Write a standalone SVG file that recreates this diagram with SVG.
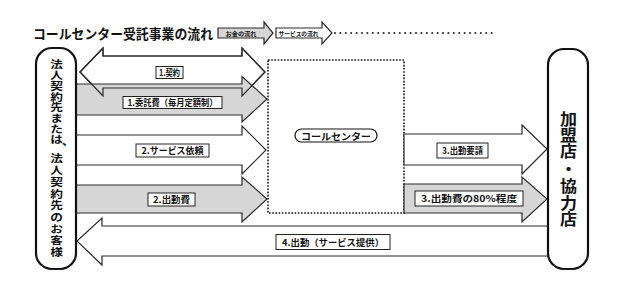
<svg xmlns="http://www.w3.org/2000/svg" width="627" height="296" viewBox="0 0 627 296">
<style>
  text { font-family: "Noto Sans CJK JP", "Noto Sans", sans-serif; font-weight: bold; fill: #111; }
  .lbl { font-size: 9px; text-anchor: middle; dominant-baseline: central; }
  .lblbox { fill: #fff; stroke: #222; stroke-width: 1; }
  .white { fill: #fff; stroke: #2a2a2a; stroke-width: 1.2; stroke-linejoin: miter; }
  .gray { fill: #d6d6d6; stroke: #2a2a2a; stroke-width: 1.2; }
  .outline { fill: none; stroke: #2a2a2a; stroke-width: 1.2; }
  .node { fill: #fff; stroke: #111; stroke-width: 2.2; }
  .vl { font-size: 10.4px; text-anchor: middle; dominant-baseline: central; }
  .vr { font-size: 15.5px; text-anchor: middle; dominant-baseline: central; }
</style>
<rect width="627" height="296" fill="#fff"/>

<g id="title">
  <text x="33" y="33.5" font-size="13.2" dominant-baseline="central" textLength="180" lengthAdjust="spacingAndGlyphs">コールセンター受託事業の流れ</text>
</g>

<g id="legend">
  <path class="gray" d="M218,28 H264 V22 L273,33 L264,44 V38 H218 Z" stroke-width="1"/>
  <text x="241" y="33" font-size="6.2" text-anchor="middle" dominant-baseline="central">お金の流れ</text>
  <path class="white" d="M276,28 H322 V22 L332,33 L322,44 V38 H276 Z" stroke-width="1"/>
  <text x="298.5" y="33" font-size="6" text-anchor="middle" dominant-baseline="central" textLength="40" lengthAdjust="spacingAndGlyphs">サービスの流れ</text>
  <line x1="335" y1="33" x2="492" y2="33" stroke="#222" stroke-width="2" stroke-linecap="round" stroke-dasharray="0 5.4"/>
</g>

<g id="callcenter">
  <rect x="268" y="60" width="136" height="153" fill="#fff" stroke="#111" stroke-width="1.6" stroke-dasharray="1.6 1.6"/>
  <rect x="295" y="129" width="82" height="13" rx="6.5" fill="#fff" stroke="#111" stroke-width="1.2"/>
  <text x="336" y="135.5" font-size="9.5" text-anchor="middle" dominant-baseline="central" textLength="70" lengthAdjust="spacingAndGlyphs">コールセンター</text>
</g>

<g id="connectors">
  <!-- 1. 契約 (double-headed) -->
  <path class="white" d="M80,72 L103,48 V56 H242 V48 L265,72 L242,96 V88 H103 V96 Z"/>
  <!-- 1. 委託費 -->
  <path class="gray" d="M70,84 H242 V76.5 L267,99 L242,122 V115 H70 Z"/>
  <path class="outline" d="M80,72 L103,48 V56 H242 V48 L265,72 L242,96 V88 H103 V96 Z"/>
  <!-- 2. サービス依頼 -->
  <path class="white" d="M70,135 H242 V126 L266,150 L242,174 V165 H70 Z"/>
  <!-- 2. 出動費 -->
  <path class="gray" d="M70,185 H242 V177 L267,199 L242,222 V213 H70 Z"/>
  <!-- 3. 出動要請 -->
  <path class="white" d="M404,134 H522 V125 L547,149 L522,174 V165 H404 Z"/>
  <!-- 3. 出動費の80%程度 -->
  <path class="gray" d="M404,184 H522 V177 L547,199 L522,222 V213 H404 Z"/>
  <!-- 4. 出動（サービス提供） -->
  <path class="white" d="M77,241 L102,218 V226 H556 V256 H102 V265 Z"/>

  <rect class="lblbox" x="156" y="66.5" width="27" height="12"/>
  <text class="lbl" x="169.5" y="72.5" textLength="21" lengthAdjust="spacingAndGlyphs">1.契約</text>
  <rect class="lblbox" x="123" y="96.5" width="99" height="12"/>
  <text class="lbl" x="172.5" y="102.5" textLength="90" lengthAdjust="spacingAndGlyphs">1.委託費（毎月定額制）</text>
  <rect class="lblbox" x="136" y="144" width="73" height="13"/>
  <text class="lbl" x="172.5" y="150.5" textLength="62" lengthAdjust="spacingAndGlyphs">2.サービス依頼</text>
  <rect class="lblbox" x="148" y="193" width="47" height="13"/>
  <text class="lbl" x="171.5" y="199.5" textLength="37" lengthAdjust="spacingAndGlyphs">2.出動費</text>
  <rect class="lblbox" x="437" y="143" width="51" height="15"/>
  <text class="lbl" x="462.5" y="150.5" textLength="41" lengthAdjust="spacingAndGlyphs">3.出動要請</text>
  <rect class="lblbox" x="415" y="191" width="108" height="15"/>
  <text class="lbl" x="469" y="198.5" textLength="96" lengthAdjust="spacingAndGlyphs">3.出動費の80%程度</text>
  <rect class="lblbox" x="276" y="234.5" width="114" height="15"/>
  <text class="lbl" x="333" y="242" textLength="102" lengthAdjust="spacingAndGlyphs">4.出動（サービス提供）</text>
</g>

<g id="client">
  <rect class="node" x="36" y="48" width="40" height="221" rx="16"/>
  <g transform="translate(56.5,0) scale(1.22,1)">
    <text class="vl"><tspan x="0" y="64">法</tspan><tspan x="0" y="74.7">人</tspan><tspan x="0" y="85.4">契</tspan><tspan x="0" y="96.1">約</tspan><tspan x="0" y="106.8">先</tspan><tspan x="0" y="117.5">ま</tspan><tspan x="0" y="128.2">た</tspan><tspan x="0" y="138.9">は</tspan><tspan x="9.6" y="140.5">、</tspan><tspan x="0" y="158">法</tspan><tspan x="0" y="169.7">人</tspan><tspan x="0" y="181.4">契</tspan><tspan x="0" y="193.1">約</tspan><tspan x="0" y="204.8">先</tspan><tspan x="0" y="216.5">の</tspan><tspan x="0" y="228.2">お</tspan><tspan x="0" y="239.9">客</tspan><tspan x="0" y="251.6">様</tspan></text>
  </g>
</g>

<g id="partner">
  <rect class="node" x="548" y="49" width="40" height="220" rx="16"/>
  <g transform="translate(568.5,0) scale(1.1,1)">
    <text class="vr"><tspan x="0" y="118">加</tspan><tspan x="0" y="134">盟</tspan><tspan x="0" y="150.5">店</tspan><tspan x="0" y="168">・</tspan><tspan x="0" y="185">協</tspan><tspan x="0" y="202">力</tspan><tspan x="0" y="218.5">店</tspan></text>
  </g>
</g>
</svg>
